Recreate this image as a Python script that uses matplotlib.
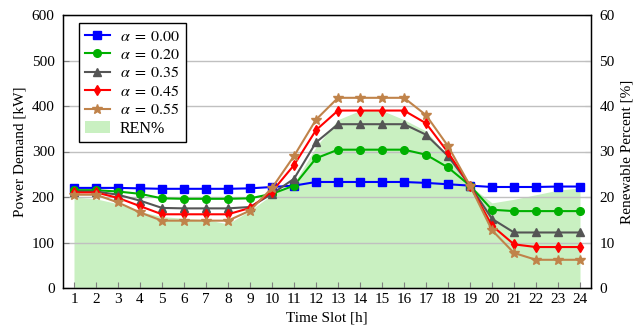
import matplotlib
matplotlib.use("Agg")
import matplotlib.pyplot as plt
from matplotlib.patches import Patch

slots = list(range(1, 25))
a000 = [220, 220, 220, 219, 218, 218, 218, 218, 219, 222, 225, 233, 233, 233, 233, 233, 231, 228, 225, 222, 222, 222, 223, 223]
a020 = [215, 215, 212, 207, 197, 196, 196, 196, 197, 207, 225, 285, 304, 304, 304, 304, 293, 265, 225, 172, 169, 169, 169, 169]
a035 = [212, 212, 205, 192, 176, 175, 175, 175, 178, 207, 240, 320, 360, 360, 360, 360, 337, 290, 225, 152, 122, 122, 122, 122]
a045 = [210, 210, 198, 180, 162, 162, 162, 162, 176, 212, 270, 347, 390, 390, 390, 390, 362, 298, 225, 137, 96, 90, 90, 90]
a055 = [205, 205, 188, 166, 148, 148, 148, 148, 170, 220, 290, 370, 418, 418, 418, 418, 380, 312, 225, 127, 77, 62, 62, 62]
ren = [20.0, 19.6, 18.5, 16.8, 15.7, 15.3, 15.0, 14.1, 17.0, 20.5, 23.0, 31.0, 37.0, 39.0, 39.0, 37.0, 34.5, 29.0, 22.5, 18.7, 19.5, 20.5, 21.5, 22.0]

series = [
    (a000, r"$\alpha\;=\;0.00$", "#0000ff", "s"),
    (a020, r"$\alpha\;=\;0.20$", "#00b000", "o"),
    (a035, r"$\alpha\;=\;0.35$", "#555555", "^"),
    (a045, r"$\alpha\;=\;0.45$", "#ff0000", "d"),
    (a055, r"$\alpha\;=\;0.55$", "#c0834a", "*"),
]

plt.rcParams["font.family"] = ["Liberation Serif", "DejaVu Serif"]
plt.rcParams["mathtext.fontset"] = "stix"

fig = plt.figure(figsize=(6.44, 3.27), dpi=100)
ax = fig.add_axes([63/644, 1-288/327, (591-63)/644, (288-15)/327])
ax2 = ax.twinx()

ax2.fill_between(slots, ren, 0, color="#c9f0c1", linewidth=0)
ax2.set_ylim(0, 60)
ax2.set_yticks(range(0, 61, 10))
ax2.set_ylabel("Renewable Percent [%]", fontsize=11)

ax.set_zorder(ax2.get_zorder() + 1)
ax.patch.set_visible(False)

handles = []
for vals, lab, col, mk in series:
    ms = 7 if mk == "*" else 5.5
    h, = ax.plot(slots, vals, color=col, marker=mk, markersize=ms, linewidth=1.5, label=lab)
    handles.append(h)
handles.append(Patch(facecolor="#c9f0c1", edgecolor="none", label="REN%"))

ax.set_xlim(0.5, 24.5)
ax.set_ylim(0, 600)
ax.set_xticks(slots)
ax.set_yticks(range(0, 601, 100))
ax.yaxis.grid(True, color="#c0c0c0", linewidth=1)
ax.set_axisbelow(True)
ax.set_xlabel("Time Slot [h]", fontsize=11)
ax.set_ylabel("Power Demand [kW]", fontsize=11)
for a in (ax, ax2):
    a.tick_params(direction="in", labelsize=11, length=4, color="#808080")
ax2.tick_params(axis="y", pad=6)
ax.tick_params(axis="y", pad=6)
for sp in ax.spines.values():
    sp.set_linewidth(1)

leg = ax.legend(handles=handles, loc="upper left", bbox_to_anchor=(16/528, 265/273),
                fontsize=11.5, frameon=True,
                fancybox=False, edgecolor="black", framealpha=1,
                borderaxespad=0, handlelength=1.6, handletextpad=0.6,
                labelspacing=0.15, borderpad=0.35)
leg.get_frame().set_linewidth(1)

fig.savefig("out.png", dpi=100)
